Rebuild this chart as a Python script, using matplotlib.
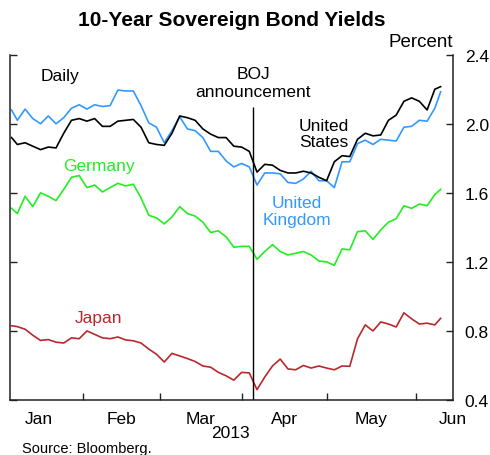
import matplotlib
matplotlib.use("Agg")
import matplotlib.pyplot as plt
import matplotlib.transforms as mtransforms

plt.rcParams['font.family'] = ['Liberation Sans', 'DejaVu Sans']

# x = weekday count from 1 Jan 2013 (chart uses a business-day axis)
day_idx = [4.5] + list(range(6, 116, 2)) + [115.5]

us = [1.92, 1.88, 1.89, 1.87, 1.85, 1.865, 1.86, 1.945, 2.02, 2.03,
      2.015, 2.03, 1.985, 1.985, 2.015, 2.02, 2.025, 1.98, 1.89, 1.88,
      1.875, 1.945, 2.045, 2.035, 2.02, 1.97, 1.94, 1.92, 1.92, 1.87,
      1.865, 1.84, 1.72, 1.765, 1.76, 1.73, 1.715, 1.715, 1.725, 1.715,
      1.69, 1.67, 1.78, 1.815, 1.81, 1.91, 1.945, 1.93, 1.935, 2.02,
      2.05, 2.13, 2.15, 2.13, 2.08, 2.20, 2.215]
uk = [2.08, 2.02, 2.085, 2.03, 2.00, 2.045, 2.00, 2.035, 2.09, 2.11,
      2.085, 2.11, 2.10, 2.105, 2.195, 2.19, 2.19, 2.105, 2.005, 1.98,
      1.89, 1.96, 2.04, 1.97, 1.96, 1.92, 1.84, 1.84, 1.785, 1.75,
      1.77, 1.75, 1.645, 1.715, 1.715, 1.71, 1.66, 1.655, 1.68, 1.725,
      1.67, 1.67, 1.63, 1.78, 1.78, 1.885, 1.905, 1.88, 1.91, 1.905,
      1.90, 1.98, 1.985, 2.02, 2.015, 2.09, 2.185]
germany = [1.51, 1.48, 1.58, 1.52, 1.60, 1.58, 1.555, 1.62, 1.69, 1.70,
           1.63, 1.645, 1.605, 1.63, 1.655, 1.64, 1.65, 1.57, 1.47, 1.455,
           1.42, 1.46, 1.52, 1.48, 1.465, 1.43, 1.37, 1.38, 1.345, 1.285,
           1.29, 1.29, 1.215, 1.26, 1.30, 1.26, 1.24, 1.25, 1.26, 1.24,
           1.205, 1.20, 1.18, 1.275, 1.27, 1.375, 1.38, 1.33, 1.385, 1.43,
           1.45, 1.525, 1.51, 1.535, 1.525, 1.59, 1.62]
japan = [0.83, 0.825, 0.81, 0.775, 0.745, 0.75, 0.735, 0.73, 0.76, 0.755,
         0.80, 0.78, 0.76, 0.755, 0.765, 0.748, 0.743, 0.73, 0.695, 0.665,
         0.62, 0.67, 0.655, 0.64, 0.623, 0.597, 0.59, 0.56, 0.54, 0.515,
         0.56, 0.557, 0.46, 0.533, 0.597, 0.637, 0.58, 0.575, 0.60, 0.585,
         0.597, 0.585, 0.575, 0.597, 0.595, 0.755, 0.835, 0.80, 0.852, 0.84,
         0.823, 0.905, 0.87, 0.84, 0.845, 0.835, 0.873]

month_edges = [23, 43, 64, 86, 109]          # Feb 1, Mar 1, Apr 1, May 1, Jun 3
month_names = ["Jan", "Feb", "Mar", "Apr", "May", "Jun"]
month_mid = [11.5, 33, 53.5, 75, 97.5, 118.7]
boj_day = 67                                 # 4 April 2013
y_ticks = [0.4, 0.8, 1.2, 1.6, 2.0, 2.4]

c_us, c_uk, c_de, c_jp = "black", "#3399ff", "#22ee22", "#b8282e"
fs = 12.5

fig = plt.figure(figsize=(4.9, 4.56), dpi=100)
ax = fig.add_axes([10 / 490, 55 / 456, 443 / 490, 345.3 / 456])

ax.plot(day_idx, uk, color=c_uk, lw=1.2)
ax.plot(day_idx, us, color=c_us, lw=1.2)
ax.plot(day_idx, germany, color=c_de, lw=1.2)
ax.plot(day_idx, japan, color=c_jp, lw=1.2)
ax.vlines(boj_day, 0.4, 2.097, color="black", lw=1.0)

ax.set_xlim(4.1, 118.7)
ax.set_ylim(0.4, 2.4)

ax.spines["top"].set_visible(False)
for s in ["left", "right", "bottom"]:
    ax.spines[s].set_linewidth(1.1)
    ax.spines[s].set_color("#222222")

ax.set_xticks(month_edges)
ax.set_xticklabels([])
ax.tick_params(axis="x", direction="in", length=5, width=1, color="#222222")

ax.set_yticks(y_ticks)
ax.set_yticklabels([f"{v:.1f}" for v in y_ticks])
ax.tick_params(axis="y", direction="in", left=True, right=True,
               labelleft=False, labelright=True, length=5, width=1,
               pad=8.5, labelsize=fs, color="#222222")

# month labels centred within each month
trans = mtransforms.blended_transform_factory(ax.transData, fig.transFigure)
for x, name in zip(month_mid, month_names):
    ax.text(x, 1 - 424 / 456, name, transform=trans, ha="center",
            va="baseline", fontsize=fs, clip_on=False)

# series labels
ax.text(11.9, 2.278, "Daily", fontsize=fs, ha="left", va="center")
ax.text(boj_day, 2.24, "BOJ\nannouncement", fontsize=fs, ha="center",
        va="center", linespacing=1.25)
ax.text(85.3, 1.944, "United\nStates", fontsize=fs, ha="center", va="center",
        color=c_us, linespacing=1.15)
ax.text(78.4, 1.496, "United\nKingdom", fontsize=fs, ha="center", va="center",
        color=c_uk, linespacing=1.15)
ax.text(27.0, 1.761, "Germany", fontsize=fs, ha="center", va="center", color=c_de)
ax.text(27.0, 0.875, "Japan", fontsize=fs, ha="center", va="center", color=c_jp)

fig.text(231.5 / 490, 1 - 20.5 / 456, "10-Year Sovereign Bond Yields",
         ha="center", va="center", fontsize=15, fontweight="bold")
fig.text(453 / 490, 1 - 47 / 456, "Percent", ha="right", va="baseline", fontsize=13.5)
fig.text(230 / 490, 1 - 438 / 456, "2013", ha="center", va="baseline", fontsize=fs)
fig.text(22 / 490, 1 - 453 / 456, "Source: Bloomberg.", ha="left",
         va="baseline", fontsize=10.5)

fig.savefig("out.png", dpi=100)
plt.close(fig)
